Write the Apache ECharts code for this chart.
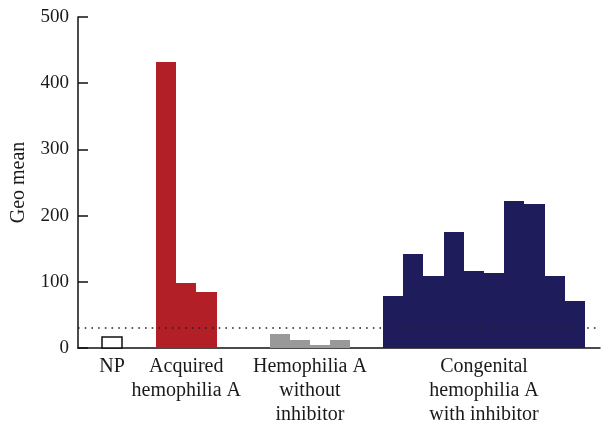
<!DOCTYPE html>
<html>
<head>
<meta charset="utf-8">
<script src="https://cdn.jsdelivr.net/npm/echarts@6/dist/echarts.min.js"></script>
<style>html,body{margin:0;padding:0;background:#fff}#c{width:605px;height:427px}</style>
</head>
<body>
<div id="c"></div>
<script>
// ---- data ----
var groupNames = ['NP', 'Acquired\nhemophilia A', 'Hemophilia A\nwithout\ninhibitor', 'Congenital\nhemophilia A\nwith inhibitor'];
var npValues = [17];
var acquiredValues = [432, 98, 85];
var withoutInhibitorValues = [21, 12, 4, 12];
var congenitalValues = [79, 142, 109, 175, 117, 114, 222, 218, 109, 71];
var thresholdValue = 31;
var yTicks = [0, 100, 200, 300, 400, 500];

// ---- layout (in bar-slot units along x) ----
var groupStarts = [1.19, 3.86, 9.48, 15.1];
var xMax = 25.84;
var groupColors = ['#ffffff', '#b21f26', '#999999', '#1f1c5b'];
var groupValues = [npValues, acquiredValues, withoutInhibitorValues, congenitalValues];

var FONT = '"Liberation Serif", "DejaVu Serif", serif';

var centers = groupValues.map(function (vals, g) { return groupStarts[g] + vals.length / 2; });

function renderBar(params, api) {
  var p0 = api.coord([api.value(0), api.value(2)]);
  var p1 = api.coord([api.value(1), 0]);
  var g = api.value(3);
  var x0 = Math.round(p0[0]), x1 = Math.round(p1[0]);
  var y0 = Math.round(p0[1]), y1 = Math.round(p1[1]);
  var style = g === 0
    ? { fill: '#ffffff', stroke: '#111111', lineWidth: 1.5 }
    : { fill: groupColors[g] };
  return {
    type: 'rect',
    shape: { x: x0, y: y0, width: x1 - x0, height: y1 - y0 },
    style: style
  };
}

var series = groupValues.map(function (vals, g) {
  var data = vals.map(function (v, i) {
    return [groupStarts[g] + i, groupStarts[g] + i + 1, v, g];
  });
  var s = {
    type: 'custom',
    renderItem: renderBar,
    encode: { x: [0, 1], y: 2 },
    data: data,
    silent: true,
    z: 1
  };
  if (g === 0) {
    s.markLine = {
      silent: true,
      symbol: 'none',
      label: { show: false },
      lineStyle: { color: '#222', width: 1.5, type: [1.6, 5.1] },
      data: [{ yAxis: thresholdValue }],
      z: 5
    };
  }
  return s;
});

var chart = echarts.init(document.getElementById('c'), null, { renderer: 'canvas' });
chart.setOption({
  animation: false,
  backgroundColor: '#fff',
  grid: { left: 78, right: 5, top: 17, bottom: 79, containLabel: false },
  xAxis: {
    type: 'value',
    min: 0,
    max: xMax,
    splitLine: { show: false },
    axisTick: { show: false },
    axisLine: { show: true, onZero: false, lineStyle: { color: '#111', width: 1.5 } },
    axisLabel: {
      customValues: centers,
      formatter: function (v) {
        for (var i = 0; i < centers.length; i++) {
          if (Math.abs(centers[i] - v) < 1e-6) return groupNames[i];
        }
        return '';
      },
      fontFamily: FONT,
      fontSize: 20,
      lineHeight: 24,
      color: '#1a1a1a',
      margin: 7,
      verticalAlign: 'top'
    }
  },
  yAxis: {
    type: 'value',
    min: yTicks[0],
    max: yTicks[yTicks.length - 1],
    interval: 100,
    name: 'Geo mean',
    nameLocation: 'middle',
    nameGap: 49,
    nameTextStyle: { fontFamily: FONT, fontSize: 20, color: '#1a1a1a' },
    splitLine: { show: false },
    axisLine: { show: true, lineStyle: { color: '#111', width: 1.5 } },
    axisTick: { show: true, inside: true, length: 10, lineStyle: { color: '#111', width: 1.5 } },
    axisLabel: { fontFamily: FONT, fontSize: 19, color: '#1a1a1a', margin: 9 }
  },
  series: series
});
</script>
</body>
</html>
